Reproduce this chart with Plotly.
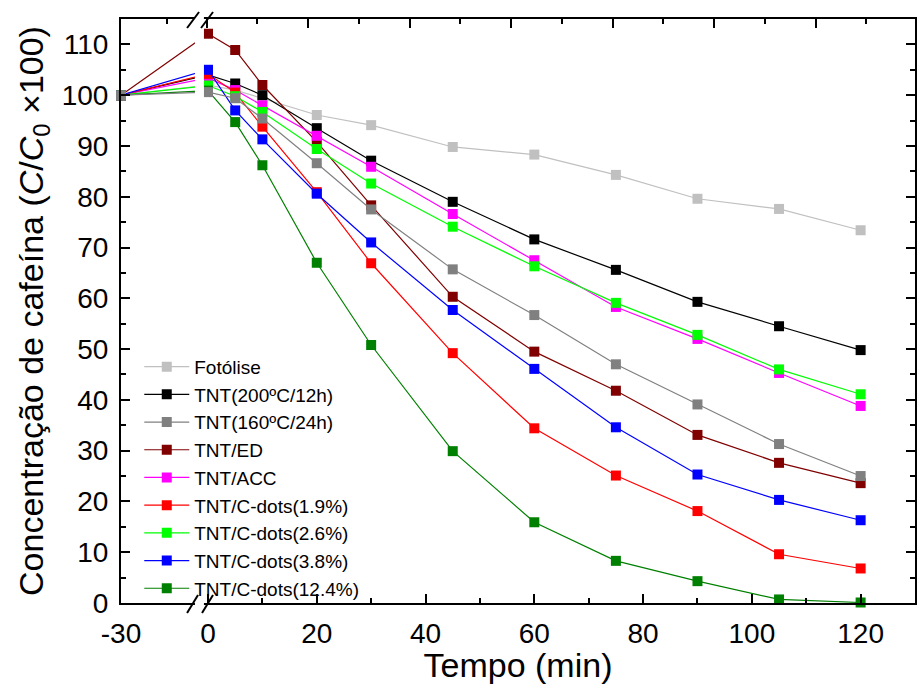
import plotly.graph_objects as go

# ---------------- data ----------------
times = [-30, 0, 5, 10, 20, 30, 45, 60, 75, 90, 105, 120]

fotolise     = [100, 102.0, 101.0, 99.4, 96.1, 94.1, 89.8, 88.3, 84.3, 79.6, 77.6, 73.4]
tnt_200_12h  = [100, 104.0, 102.3, 100.0, 93.5, 87.1, 79.0, 71.6, 65.6, 59.3, 54.5, 49.8]
tnt_160_24h  = [100, 100.6, 99.4, 95.4, 86.6, 77.5, 65.7, 56.7, 47.0, 39.1, 31.3, 25.0]
tnt_ed       = [100, 112.1, 108.9, 102.0, 90.8, 78.3, 60.3, 49.5, 41.8, 33.1, 27.6, 23.6]
tnt_acc      = [100, 103.4, 101.0, 98.0, 92.0, 85.9, 76.6, 67.5, 58.3, 52.0, 45.3, 38.8]
cdots_1_9    = [100, 104.2, 100.5, 93.8, 80.9, 66.9, 49.2, 34.4, 25.1, 18.1, 9.6, 6.8]
cdots_2_6    = [100, 101.9, 99.8, 96.7, 89.4, 82.6, 74.1, 66.3, 59.1, 52.8, 46.0, 41.1]
cdots_3_8    = [100, 105.0, 97.0, 91.3, 80.6, 71.0, 57.7, 46.1, 34.6, 25.3, 20.3, 16.3]
cdots_12_4   = [100, 100.9, 94.7, 86.2, 67.0, 50.8, 29.9, 15.9, 8.3, 4.3, 0.7, 0.1]

names = ["Fotólise", "TNT(200ºC/12h)", "TNT(160ºC/24h)", "TNT/ED", "TNT/ACC",
         "TNT/C-dots(1.9%)", "TNT/C-dots(2.6%)", "TNT/C-dots(3.8%)", "TNT/C-dots(12.4%)"]
values = [fotolise, tnt_200_12h, tnt_160_24h, tnt_ed, tnt_acc,
          cdots_1_9, cdots_2_6, cdots_3_8, cdots_12_4]
colors = ["#C0C0C0", "#000000", "#808080", "#800000", "#FF00FF",
          "#FF0000", "#00FF00", "#0000FF", "#008000"]
# drawing order (legend order kept with legendrank)
draw_order = [0, 1, 3, 4, 5, 6, 7, 8, 2]

x_tick_values = [-30, 0, 20, 40, 60, 80, 100, 120]
x_tick_labels = ["-30", "0", "20", "40", "60", "80", "100", "120"]
x_minor_values = [10, 30, 50, 70, 90, 110, 130]

# broken x axis: the segment before 0 is compressed
PRE_BREAK = 16 / 30


def bx(v):
    return v if v >= 0 else v * PRE_BREAK


xp = [bx(t) for t in times]

FONT = "Liberation Sans"

fig = go.Figure()
for i in draw_order:
    fig.add_trace(go.Scatter(
        x=xp, y=values[i], name=names[i], mode="lines+markers",
        line=dict(color=colors[i], width=1.2),
        marker=dict(symbol="square", size=10, color=colors[i], line=dict(width=0)),
        legendrank=i + 1, cliponaxis=False,
    ))

# dummy trace for the top axis
fig.add_trace(go.Scatter(x=[None], y=[None], xaxis="x2", showlegend=False, hoverinfo="skip"))

# break: white gap + slashes
shapes = [
    dict(type="rect", xref="x", yref="paper", x0=bx(-4.5), x1=bx(-1.4), y0=-0.006, y1=1.006,
         fillcolor="white", line=dict(width=0), layer="above"),
]
for (x0, x1, y0, y1) in [(-3.85, -1.84, -0.0171, 0.0137), (-1.10, 0.92, -0.0171, 0.0137),
                         (-3.85, -1.65, 0.9846, 1.012), (-1.28, 0.92, 0.9846, 1.012)]:
    shapes.append(dict(type="line", xref="x", yref="paper", x0=x0, x1=x1, y0=y0, y1=y1,
                       line=dict(color="black", width=2), layer="above"))

fig.update_layout(
    width=917, height=684,
    margin=dict(l=121, r=2, t=19, b=81, autoexpand=False),
    plot_bgcolor="white", paper_bgcolor="white",
    font=dict(family=FONT, color="black", size=28),
    showlegend=True,
    legend=dict(x=0.023, y=0.437, xanchor="left", yanchor="top",
                bgcolor="rgba(0,0,0,0)", font=dict(size=19, family=FONT),
                tracegroupgap=0, itemwidth=45),
    shapes=shapes,
    xaxis=dict(
        range=[-16, 130], tickmode="array", automargin=False,
        tickvals=[bx(v) for v in x_tick_values], ticktext=x_tick_labels,
        ticks="inside", ticklen=9, tickwidth=2, tickcolor="black",
        minor=dict(tickmode="array", tickvals=x_minor_values, ticks="inside",
                   ticklen=5, tickwidth=2, tickcolor="black"),
        showline=True, linewidth=2, linecolor="black", mirror=True,
        showgrid=False, zeroline=False,
        tickfont=dict(size=28), ticklabelstandoff=4,
        title=dict(text="Tempo (min)", font=dict(size=34), standoff=9),
    ),
    xaxis2=dict(
        overlaying="x", side="top", range=[-16.85, 139.6], tickmode="array",
        tickvals=[0, 20, 40, 60, 80, 100, 120], showticklabels=False,
        ticks="inside", ticklen=9, tickwidth=2, tickcolor="black",
        minor=dict(tickmode="array", tickvals=[-7.8, 10, 30, 50, 70, 90, 110, 130],
                   ticks="inside", ticklen=5, tickwidth=2, tickcolor="black"),
        showline=False, showgrid=False, zeroline=False, automargin=False,
    ),
    yaxis=dict(
        range=[0, 115], tickmode="linear", tick0=0, dtick=10, automargin=False,
        ticks="inside", ticklen=9, tickwidth=2, tickcolor="black",
        minor=dict(dtick=5, ticks="inside", ticklen=5, tickwidth=2, tickcolor="black"),
        showline=True, linewidth=2, linecolor="black", mirror="ticks",
        showgrid=False, zeroline=False,
        tickfont=dict(size=28), ticklabelstandoff=5,
        title=dict(text="Concentração de cafeína (<i>C</i>/<i>C</i><sub>0</sub> ×100)",
                   font=dict(size=34), standoff=8),
    ),
)

fig.write_html(
    "out.html",
    config={"displayModeBar": False},
    post_script="document.body.style.margin='0';document.body.style.padding='0';",
)
